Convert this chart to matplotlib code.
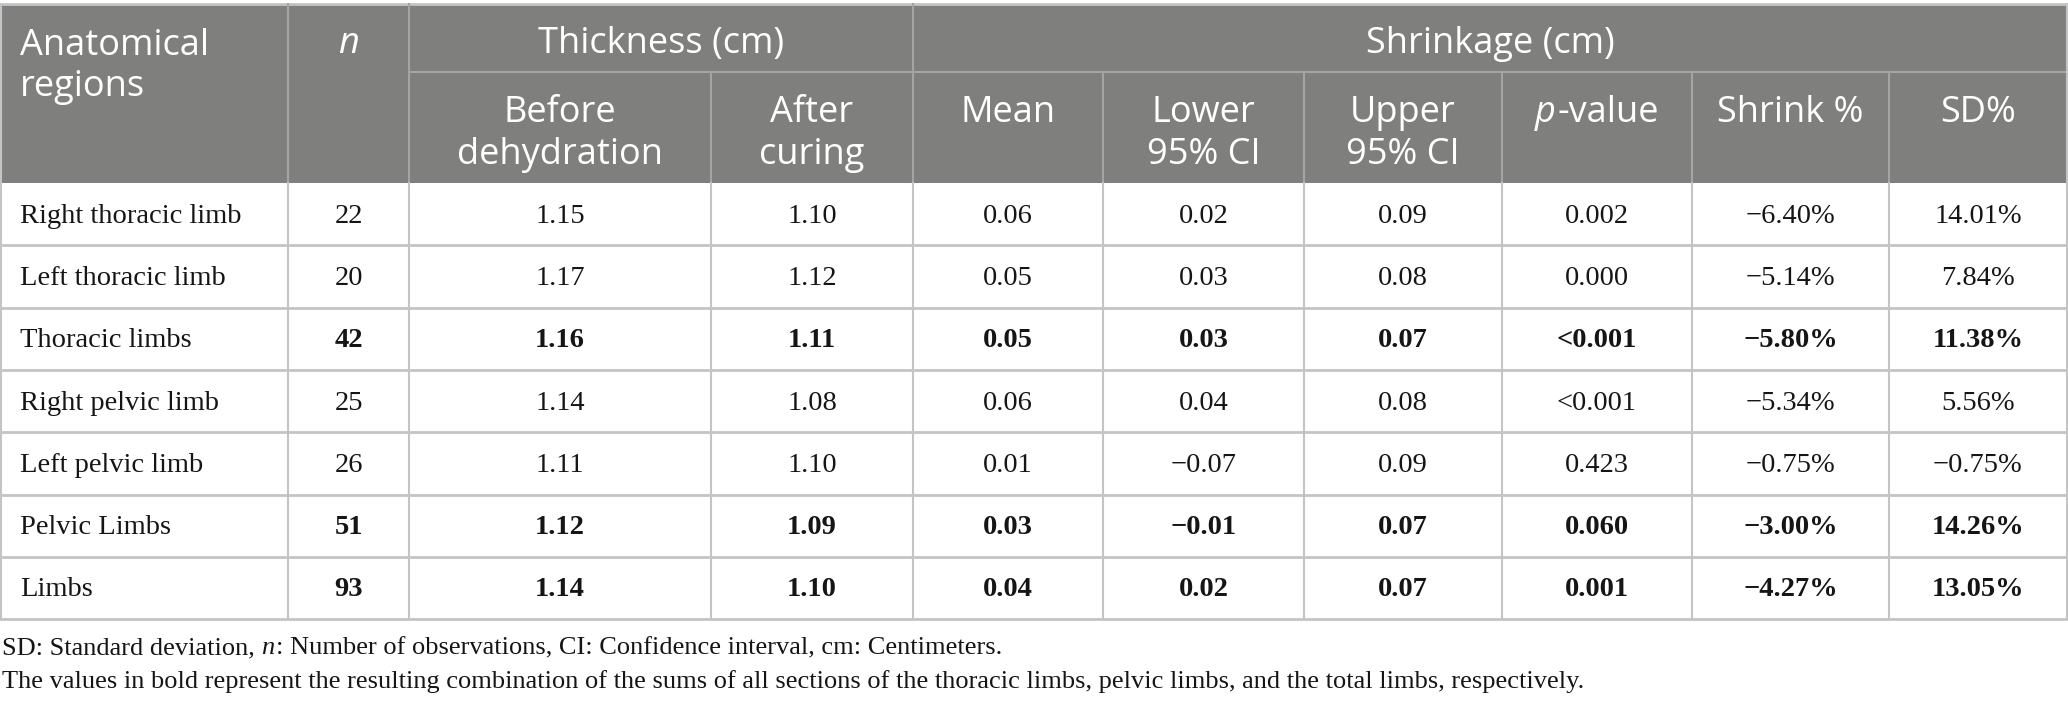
import matplotlib.pyplot as plt
from matplotlib.patches import Rectangle

# table data
regions = ['Right thoracic limb', 'Left thoracic limb', 'Thoracic limbs', 'Right pelvic limb',
           'Left pelvic limb', 'Pelvic Limbs', 'Limbs']
n_obs = ['22', '20', '42', '25', '26', '51', '93']
before_dehyd = ['1.15', '1.17', '1.16', '1.14', '1.11', '1.12', '1.14']
after_curing = ['1.10', '1.12', '1.11', '1.08', '1.10', '1.09', '1.10']
shrink_mean = ['0.06', '0.05', '0.05', '0.06', '0.01', '0.03', '0.04']
lower_ci = ['0.02', '0.03', '0.03', '0.04', '\u22120.07', '\u22120.01', '0.02']
upper_ci = ['0.09', '0.08', '0.07', '0.08', '0.09', '0.07', '0.07']
p_values = ['0.002', '0.000', '<0.001', '<0.001', '0.423', '0.060', '0.001']
shrink_pct = ['\u22126.40%', '\u22125.14%', '\u22125.80%', '\u22125.34%', '\u22120.75%', '\u22123.00%', '\u22124.27%']
sd_pct = ['14.01%', '7.84%', '11.38%', '5.56%', '\u22120.75%', '14.26%', '13.05%']
bold_rows = [False, False, True, False, False, True, True]

W, H = 2068, 707
col_x = [1, 288, 409, 711, 913, 1103, 1304, 1502, 1692, 1889, 2067]
top, split, head_bot = 4, 72, 183
row_h = 62.3

HEAD_BG = '#7f807e'
HEAD_LINE = '#a4a5a3'
GRID = '#c4c4c4'
TXT = '#151515'
SANS = 'Open Sans'
SERIF = 'Liberation Serif'

fig = plt.figure(figsize=(W / 100, H / 100), dpi=100)
ax = fig.add_axes([0, 0, 1, 1])
ax.set_xlim(0, W)
ax.set_ylim(H, 0)
ax.axis('off')


def text_width(t):
    # width of a drawn text in data (pixel) units
    fig.canvas.draw()
    bb = t.get_window_extent()
    inv = ax.transData.inverted()
    return inv.transform((bb.x1, 0))[0] - inv.transform((bb.x0, 0))[0]


# header block
ax.add_patch(Rectangle((col_x[0], top), col_x[-1] - col_x[0], head_bot - top,
                       facecolor=HEAD_BG, edgecolor='none'))
ax.plot([col_x[0], col_x[-1]], [top, top], color=GRID, lw=2)
ax.plot([col_x[2], col_x[-1]], [split, split], color=HEAD_LINE, lw=1.5)
for i, x in enumerate(col_x):
    if i in (0, len(col_x) - 1):
        ax.plot([x, x], [top, head_bot], color=GRID, lw=1.5)
    elif i in (1, 2, 4):
        ax.plot([x, x], [top, head_bot], color=HEAD_LINE, lw=1.5)
    else:
        ax.plot([x, x], [split, head_bot], color=HEAD_LINE, lw=1.5)

hs = 26
ax.text(col_x[0] + 19, 46, 'Anatomical', color='white', fontsize=hs, family=SANS,
        va='center', ha='left')
ax.text(col_x[0] + 19, 87, 'regions', color='white', fontsize=hs, family=SANS,
        va='center', ha='left')
ax.text((col_x[1] + col_x[2]) / 2, 44, 'n', color='white', fontsize=hs, family=SANS,
        style='italic', ha='center', va='center')
ax.text((col_x[2] + col_x[4]) / 2, 44, 'Thickness (cm)', color='white', fontsize=hs, family=SANS,
        ha='center', va='center')
ax.text((col_x[4] + col_x[-1]) / 2, 44, 'Shrinkage (cm)', color='white', fontsize=hs, family=SANS,
        ha='center', va='center')
sub_heads = ['Before\ndehydration', 'After\ncuring', 'Mean', 'Lower\n95% CI', 'Upper\n95% CI',
             None, 'Shrink %', 'SD%']
for j, lab in enumerate(sub_heads):
    xc = (col_x[j + 2] + col_x[j + 3]) / 2
    if lab is None:
        tp = ax.text(xc, 113, 'p', color='white', fontsize=hs, family=SANS, style='italic',
                     ha='right', va='center')
        tv = ax.text(xc, 113, '-value', color='white', fontsize=hs, family=SANS,
                     ha='left', va='center')
        wp, wv = text_width(tp), text_width(tv)
        x0 = xc - (wp + wv) / 2 + wp
        tp.set_x(x0 - 1)
        tv.set_x(x0 + 1)
        continue
    parts = lab.split('\n')
    for k, part in enumerate(parts):
        ax.text(xc, 113 + 42 * k, part, color='white', fontsize=hs, family=SANS,
                ha='center', va='center')

# body
cols = [n_obs, before_dehyd, after_curing, shrink_mean, lower_ci, upper_ci, p_values, shrink_pct, sd_pct]
bs = 20.5
for r in range(len(regions)):
    y0 = head_bot + r * row_h
    yc = y0 + row_h / 2 + 2
    ax.text(col_x[0] + 19, yc, regions[r], fontsize=bs, family=SERIF, color=TXT,
            ha='left', va='center')
    for j, vals in enumerate(cols):
        xc = (col_x[j + 1] + col_x[j + 2]) / 2
        ax.text(xc, yc, vals[r], fontsize=bs, family=SERIF, color=TXT, ha='center',
                va='center', weight='bold' if bold_rows[r] else 'normal')
    ax.plot([col_x[0], col_x[-1]], [y0 + row_h, y0 + row_h], color=GRID, lw=2)

bottom = head_bot + len(regions) * row_h
for x in col_x:
    ax.plot([x, x], [head_bot, bottom], color=GRID, lw=1.5)

# footnotes
fs = 19
note1 = ax.text(col_x[0] + 1, 648, 'SD: Standard deviation, ', fontsize=fs, family=SERIF,
                color=TXT, ha='left', va='center')
x_n = col_x[0] + 1 + text_width(note1)
t_n = ax.text(x_n, 648, 'n', fontsize=fs, family=SERIF, style='italic', color=TXT,
              ha='left', va='center')
x_r = x_n + text_width(t_n) + 1
ax.text(x_r, 648, ': Number of observations, CI: Confidence interval, cm: Centimeters.',
        fontsize=fs, family=SERIF, color=TXT, ha='left', va='center')
ax.text(col_x[0] + 1, 682, 'The values in bold represent the resulting combination of the sums of all '
        'sections of the thoracic limbs, pelvic limbs, and the total limbs, respectively.',
        fontsize=fs, family=SERIF, color=TXT, ha='left', va='center')

fig.savefig('out.png', dpi=100, facecolor='white')
